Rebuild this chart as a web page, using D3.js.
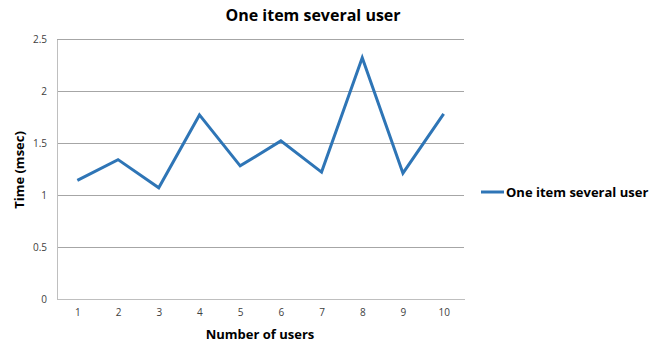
<!DOCTYPE html>
<html><head><meta charset="utf-8">
<script src="https://cdn.jsdelivr.net/npm/d3@7"></script>
<style>body{margin:0;background:#fff;}text{font-family:"Open Sans","Liberation Sans",sans-serif;}</style>
</head><body>
<svg id="c" width="669" height="345"></svg>
<script>
const categories = ["1","2","3","4","5","6","7","8","9","10"];
const values = [1.14, 1.34, 1.07, 1.77, 1.28, 1.52, 1.22, 2.32, 1.21, 1.78];
const yTicks = [0, 0.5, 1, 1.5, 2, 2.5];
const seriesName = "One item several user";
const title = "One item several user";
const xTitle = "Number of users";
const yTitle = "Time (msec)";

const svg = d3.select("#c");
const m = {l:57, r:464, t:39, b:299};
const x = d3.scalePoint().domain(categories).range([m.l, m.r]).padding(0.5);
const y = d3.scaleLinear().domain([0, 2.5]).range([m.b, m.t]);

// gridlines
svg.append("g").selectAll("line").data(yTicks.filter(d=>d>0)).join("line")
  .attr("x1", m.l).attr("x2", m.r).attr("y1", d=>y(d)).attr("y2", d=>y(d))
  .attr("stroke", "#a6a6a6").attr("stroke-width", 1).attr("shape-rendering","crispEdges");

// y axis
const ya = svg.append("g").attr("transform", `translate(${m.l},0)`)
  .call(d3.axisLeft(y).tickValues(yTicks).tickSize(0).tickPadding(10).tickFormat(d3.format("")));
ya.select(".domain").attr("stroke", "#bfbfbf").attr("shape-rendering","crispEdges");
ya.selectAll("text").attr("font-size", 10).attr("fill", "#404040").style("font-family","'Open Sans',sans-serif");

// x axis
const xa = svg.append("g").attr("transform", `translate(0,${m.b})`)
  .call(d3.axisBottom(x).tickSize(0).tickPadding(10));
xa.select(".domain").attr("stroke", "#bfbfbf").attr("shape-rendering","crispEdges");
xa.selectAll("text").attr("font-size", 10).attr("fill", "#404040").style("font-family","'Open Sans',sans-serif");

// line
svg.append("path").datum(values)
  .attr("fill", "none").attr("stroke", "#2e75b6").attr("stroke-width", 3)
  .attr("stroke-linejoin", "miter")
  .attr("d", d3.line().x((d,i)=>x(categories[i])).y(d=>y(d)));

// titles
svg.append("text").attr("x", 313).attr("y", 21).attr("text-anchor", "middle")
  .attr("font-size", 16).attr("font-weight", "bold").attr("fill", "#000").text(title);
svg.append("text").attr("x", 260).attr("y", 339).attr("text-anchor", "middle")
  .attr("font-size", 13).attr("font-weight", "bold").attr("fill", "#000").text(xTitle);
svg.append("text").attr("transform", "translate(24,170) rotate(-90)").attr("text-anchor", "middle")
  .attr("font-size", 13).attr("font-weight", "bold").attr("fill", "#000").text(yTitle);

// legend
const lg = svg.append("g");
lg.append("line").attr("x1", 481).attr("x2", 504).attr("y1", 192).attr("y2", 192)
  .attr("stroke", "#2e75b6").attr("stroke-width", 3);
lg.append("text").attr("x", 506).attr("y", 196.5).attr("font-size", 13).attr("font-weight", "bold")
  .attr("fill", "#000").text(seriesName);
</script>
</body></html>
